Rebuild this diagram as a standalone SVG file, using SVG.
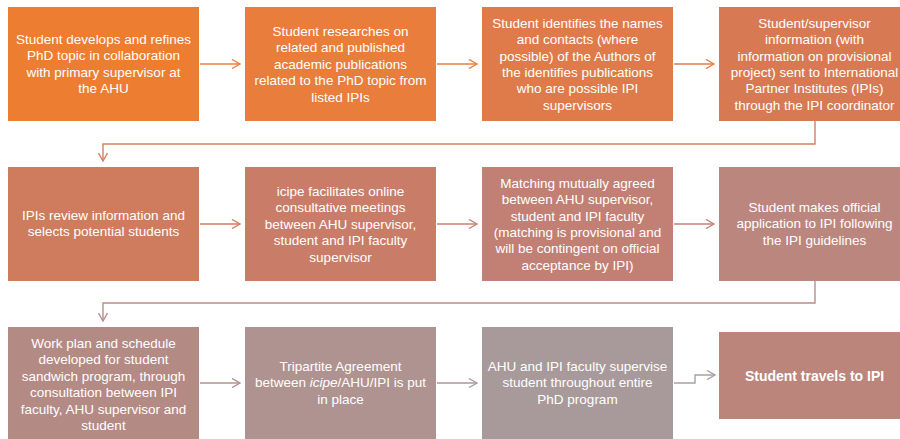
<svg xmlns="http://www.w3.org/2000/svg" width="900" height="439" viewBox="0 0 900 439">
<defs>
<style>
text{font-family:"Liberation Sans",Arial,sans-serif;font-size:13.5px;fill:#ffffff;text-anchor:middle}
.b{font-weight:bold;font-size:14px}
.c{fill:none;stroke-width:1.4}
</style>
<marker id="a1" viewBox="0 0 10 10" refX="9" refY="5" markerWidth="10" markerHeight="10" markerUnits="userSpaceOnUse" orient="auto"><path d="M1,0.5 L9,5 L1,9.5" fill="none" stroke="#E98045" stroke-width="1.4"/></marker>
<marker id="a2" viewBox="0 0 10 10" refX="9" refY="5" markerWidth="10" markerHeight="10" markerUnits="userSpaceOnUse" orient="auto"><path d="M1,0.5 L9,5 L1,9.5" fill="none" stroke="#D4805F" stroke-width="1.4"/></marker>
<marker id="a3" viewBox="0 0 10 10" refX="9" refY="5" markerWidth="10" markerHeight="10" markerUnits="userSpaceOnUse" orient="auto"><path d="M1,0.5 L9,5 L1,9.5" fill="none" stroke="#C6857A" stroke-width="1.4"/></marker>
<marker id="a4" viewBox="0 0 10 10" refX="9" refY="5" markerWidth="10" markerHeight="10" markerUnits="userSpaceOnUse" orient="auto"><path d="M1,0.5 L9,5 L1,9.5" fill="none" stroke="#B49090" stroke-width="1.4"/></marker>
<marker id="a5" viewBox="0 0 10 10" refX="9" refY="5" markerWidth="10" markerHeight="10" markerUnits="userSpaceOnUse" orient="auto"><path d="M1,0.5 L9,5 L1,9.5" fill="none" stroke="#A8A0A0" stroke-width="1.4"/></marker>
</defs>
<rect width="900" height="439" fill="#ffffff"/>
<g id="connectors">
<path class="c" d="M200,64 H240" stroke="#E98045" marker-end="url(#a1)"/>
<path class="c" d="M437,64 H477" stroke="#E48046" marker-end="url(#a1)"/>
<path class="c" d="M674,64 H714" stroke="#DD7D52" marker-end="url(#a1)"/>
<path class="c" d="M815,121 V144 H103 V161" stroke="#D4805F" marker-end="url(#a2)"/>
<path class="c" d="M200,224 H240" stroke="#CF7C62" marker-end="url(#a2)"/>
<path class="c" d="M437,224 H477" stroke="#C9806F" marker-end="url(#a3)"/>
<path class="c" d="M674,224 H714" stroke="#C3807A" marker-end="url(#a3)"/>
<path class="c" d="M815,281 V303 H103 V321" stroke="#BB8C88" marker-end="url(#a4)"/>
<path class="c" d="M200,383 H240" stroke="#B49090" marker-end="url(#a4)"/>
<path class="c" d="M437,383 H477" stroke="#AE9696" marker-end="url(#a5)"/>
<path class="c" d="M674,383 H695 V375 H715" stroke="#A8A0A0" marker-end="url(#a5)"/>
</g>
<g id="n1"><rect x="8" y="7" width="191" height="114" fill="#ED7D31"/>
<text x="103.5" y="44">Student develops and refines</text>
<text x="103.5" y="60.4">PhD topic in collaboration</text>
<text x="103.5" y="76.8">with primary supervisor at</text>
<text x="103.5" y="93.2">the AHU</text></g>
<g id="n2"><rect x="245" y="7" width="191" height="114" fill="#E87D3C"/>
<text x="340.5" y="36">Student researches on</text>
<text x="340.5" y="52.4">related and published</text>
<text x="340.5" y="68.8">academic publications</text>
<text x="340.5" y="85.2">related to the PhD topic from</text>
<text x="340.5" y="101.6">listed IPIs</text></g>
<g id="n3"><rect x="482" y="7" width="191" height="114" fill="#DF7B4B"/>
<text x="577.5" y="27.8">Student identifies the names</text>
<text x="577.5" y="44.2">and contacts (where</text>
<text x="577.5" y="60.6">possible) of the Authors of</text>
<text x="577.5" y="77">the identifies publications</text>
<text x="577.5" y="93.4">who are possible IPI</text>
<text x="577.5" y="109.8">supervisors</text></g>
<g id="n4"><rect x="719" y="7" width="191" height="114" fill="#D77A54"/>
<text x="814.5" y="27.8">Student/supervisor</text>
<text x="814.5" y="44.2">information (with</text>
<text x="814.5" y="60.6">information on provisional</text>
<text x="814.5" y="77">project) sent to International</text>
<text x="814.5" y="93.4">Partner Institutes (IPIs)</text>
<text x="814.5" y="109.8">through the IPI coordinator</text></g>
<g id="n5"><rect x="8" y="167" width="191" height="114" fill="#CF7C5E"/>
<text x="103.5" y="220">IPIs review information and</text>
<text x="103.5" y="236.4">selects potential students</text></g>
<g id="n6"><rect x="245" y="167" width="191" height="114" fill="#C97D69"/>
<text x="340.5" y="196">icipe facilitates online</text>
<text x="340.5" y="212.4">consultative meetings</text>
<text x="340.5" y="228.8">between AHU supervisor,</text>
<text x="340.5" y="245.2">student and IPI faculty</text>
<text x="340.5" y="261.6">supervisor</text></g>
<g id="n7"><rect x="482" y="167" width="191" height="114" fill="#C27F74"/>
<text x="577.5" y="187.8">Matching mutually agreed</text>
<text x="577.5" y="204.2">between AHU supervisor,</text>
<text x="577.5" y="220.6">student and IPI faculty</text>
<text x="577.5" y="237">(matching is provisional and</text>
<text x="577.5" y="253.4">will be contingent on official</text>
<text x="577.5" y="269.8">acceptance by IPI)</text></g>
<g id="n8"><rect x="719" y="167" width="191" height="114" fill="#BB867E"/>
<text x="814.5" y="212">Student makes official</text>
<text x="814.5" y="228.4">application to IPI following</text>
<text x="814.5" y="244.8">the IPI guidelines</text></g>
<g id="n9"><rect x="8" y="327" width="191" height="114" fill="#B48A85"/>
<text x="103.5" y="348">Work plan and schedule</text>
<text x="103.5" y="364.4">developed for student</text>
<text x="103.5" y="380.8">sandwich program, through</text>
<text x="103.5" y="397.2">consultation between IPI</text>
<text x="103.5" y="413.6">faculty, AHU supervisor and</text>
<text x="103.5" y="430">student</text></g>
<g id="n10"><rect x="245" y="327" width="191" height="114" fill="#AF9391"/>
<text x="340.5" y="371">Tripartite Agreement</text>
<text x="340.5" y="387.4">between <tspan font-style="italic">icipe</tspan>/AHU/IPI is put</text>
<text x="340.5" y="403.8">in place</text></g>
<g id="n11"><rect x="482" y="327" width="191" height="114" fill="#A89A9A"/>
<text x="577.5" y="371">AHU and IPI faculty supervise</text>
<text x="577.5" y="387.4">student throughout entire</text>
<text x="577.5" y="403.8">PhD program</text></g>
<g id="n12"><rect x="719" y="332" width="191" height="87" fill="#BC857B"/>
<text class="b" x="814.5" y="381">Student travels to IPI</text></g>
</svg>
